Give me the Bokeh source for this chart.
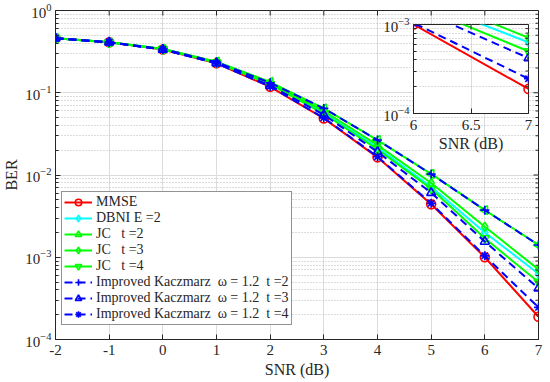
import math
from bokeh.plotting import figure
from bokeh.models import FixedTicker
from bokeh.embed import file_html
from bokeh.resources import INLINE

# ---------------- data ----------------
snr = [-2, -1, 0, 1, 2, 3, 4, 5, 6, 7]
mmse = [0.46, 0.41, 0.335, 0.228, 0.118, 0.0488, 0.0164, 0.0044, 0.00100, 0.000189]
dbni = [0.46, 0.41, 0.34, 0.234, 0.128, 0.0575, 0.0215, 0.0072, 0.00200, 0.00063]
jc2 = [0.46, 0.41, 0.34, 0.238, 0.135, 0.0645, 0.0266, 0.0103, 0.00374, 0.00141]
jc3 = [0.46, 0.41, 0.34, 0.236, 0.131, 0.0600, 0.0231, 0.0080, 0.00235, 0.00071]
jc4 = [0.46, 0.41, 0.34, 0.232, 0.126, 0.0555, 0.0205, 0.0068, 0.00170, 0.00050]
kz2 = [0.46, 0.41, 0.34, 0.236, 0.132, 0.0645, 0.0266, 0.01026, 0.00374, 0.00141]
kz3 = [0.46, 0.41, 0.335, 0.230, 0.122, 0.0540, 0.0191, 0.00608, 0.00155, 0.00042]
kz4 = [0.46, 0.41, 0.335, 0.228, 0.119, 0.0495, 0.0167, 0.00452, 0.00104, 0.000246]

x_ticks = [-2, -1, 0, 1, 2, 3, 4, 5, 6, 7]
x_tick_labels = ["-2", "-1", "0", "1", "2", "3", "4", "5", "6", "7"]
y_ticks = [1e-4, 1e-3, 1e-2, 1e-1, 1]
y_minor = [k * 10.0 ** e for e in range(-4, 0) for k in range(2, 10)]
inset_x_ticks = [6, 6.5, 7]
inset_y_ticks = [1e-4, 1e-3]
inset_y_minor = [k * 1e-4 for k in range(2, 10)]

NB = "\u00a0"
labels = [
    "MMSE",
    "DBNI E =2",
    "JC" + NB * 3 + "t =2",
    "JC" + NB * 3 + "t =3",
    "JC" + NB * 3 + "t =4",
    "Improved Kaczmarz" + NB * 2 + "\u03c9 = 1.2" + NB * 2 + "t =2",
    "Improved Kaczmarz" + NB * 2 + "\u03c9 = 1.2" + NB * 2 + "t =3",
    "Improved Kaczmarz" + NB * 2 + "\u03c9 = 1.2" + NB * 2 + "t =4",
]
values = [mmse, dbni, jc2, jc3, jc4, kz2, kz3, kz4]

# styles (separate from data)
RED, CYAN, GREEN, BLUE = "#ff0000", "#00ffff", "#00ff00", "#0000ff"
styles = [
    (RED, "circle", "solid", 0.0),
    (CYAN, "diamond", "solid", 0.0),
    (GREEN, "triangle", "solid", math.pi / 2),
    (GREEN, "diamond", "solid", 0.0),
    (GREEN, "inverted_triangle", "solid", 0.0),
    (BLUE, "cross", "8 5", 0.0),
    (BLUE, "triangle", "8 5", 0.0),
    (BLUE, "asterisk", "8 5", 0.0),
]

FONT = "'Liberation Serif', 'Times New Roman', serif"
AX = "#262626"


def add_series(fig, legend):
    for lab, vals, (col, mk, dash, ang) in zip(labels, values, styles):
        kw = dict(legend_label=lab) if legend else {}
        fig.line(snr, vals, line_color=col, line_width=2, line_dash=dash, **kw)
        fig.scatter(snr, vals, marker=mk, size=9, angle=ang, line_color=col,
                    fill_color=None, line_width=1.6, **kw)


def mirror_ticks(fig, xt, xmax, yt, ymin_list, ytop):
    # tick marks on the top and right edges; dash markers centred on the
    # frame edge are clipped by the frame so only the inner half shows
    fig.scatter(xt, [ytop] * len(xt), marker="dash", angle=math.pi / 2, size=10,
                line_color=AX, line_width=1)
    fig.scatter([xmax] * len(yt), yt, marker="dash", size=10, line_color=AX, line_width=1)
    fig.scatter([xmax] * len(ymin_list), ymin_list, marker="dash", size=6,
                line_color=AX, line_width=1)


def style_axes(fig):
    for ax in fig.axis:
        ax.axis_line_color = AX
        ax.major_tick_line_color = AX
        ax.minor_tick_line_color = AX
        ax.major_tick_in = 5
        ax.major_tick_out = 0
        ax.minor_tick_in = 3
        ax.minor_tick_out = 0
        ax.major_label_text_font = FONT
        ax.major_label_text_font_size = "15px"
        ax.major_label_text_color = AX
        ax.axis_label_text_font = FONT
        ax.axis_label_text_font_size = "16px"
        ax.axis_label_text_font_style = "normal"
        ax.axis_label_text_color = AX
    fig.xaxis.minor_tick_in = 0
    fig.xgrid.grid_line_color = "#dcdcdc"
    fig.ygrid.grid_line_color = "#dcdcdc"
    fig.ygrid.minor_grid_line_color = "#b8b8b8"
    fig.ygrid.minor_grid_line_dash = "1 2"
    fig.outline_line_color = AX
    fig.outline_line_width = 1
    fig.background_fill_color = "white"


# ---------------- main figure ----------------
p = figure(width=548, height=380, x_range=(-2, 7), y_range=(1e-4, 1),
           y_axis_type="log", output_backend="svg", toolbar_location=None,
           min_border_left=54, min_border_right=10, min_border_top=10,
           min_border_bottom=41)
add_series(p, True)
mirror_ticks(p, x_ticks, x_ticks[-1], y_ticks, y_minor, y_ticks[-1])
p.xaxis.ticker = FixedTicker(ticks=x_ticks)
p.xaxis.major_label_overrides = {t: s for t, s in zip(x_ticks, x_tick_labels)}
p.yaxis.ticker = FixedTicker(ticks=y_ticks, minor_ticks=y_minor)
p.xaxis.axis_label = "SNR (dB)"
p.yaxis.axis_label = "BER"
style_axes(p)
p.border_fill_color = "white"
p.xaxis.major_label_standoff = 5
p.xaxis.axis_label_standoff = 3
p.yaxis.major_label_standoff = 4
p.yaxis.axis_label_standoff = 2

lg = p.legend[0]
lg.location = (6, 14)
lg.label_text_font = FONT
lg.label_text_font_size = "14px"
lg.label_text_color = AX
lg.label_height = 16
lg.glyph_height = 16
lg.glyph_width = 28
lg.label_standoff = 4
lg.spacing = 0
lg.padding = 2
lg.margin = 0
lg.border_line_color = AX
lg.border_line_width = 1
lg.background_fill_alpha = 1

# ---------------- inset ----------------
ins = figure(width=155, height=145, x_range=(6, 7), y_range=(1e-4, 1e-3),
             y_axis_type="log", output_backend="svg", toolbar_location=None,
             min_border_left=34, min_border_right=6, min_border_top=8,
             min_border_bottom=48)
add_series(ins, False)
mirror_ticks(ins, inset_x_ticks, inset_x_ticks[-1], inset_y_ticks, inset_y_minor,
             inset_y_ticks[-1])
ins.xaxis.ticker = FixedTicker(ticks=inset_x_ticks)
ins.yaxis.ticker = FixedTicker(ticks=inset_y_ticks, minor_ticks=inset_y_minor)
ins.xaxis.axis_label = "SNR (dB)"
style_axes(ins)
ins.border_fill_color = None
ins.xaxis.major_label_standoff = 6
ins.xaxis.axis_label_standoff = 2
ins.yaxis.major_label_standoff = 4
ins.styles = {"position": "absolute", "left": "379px", "top": "16px", "z-index": "5"}

open("out.html", "w").write(file_html([p, ins], INLINE))
